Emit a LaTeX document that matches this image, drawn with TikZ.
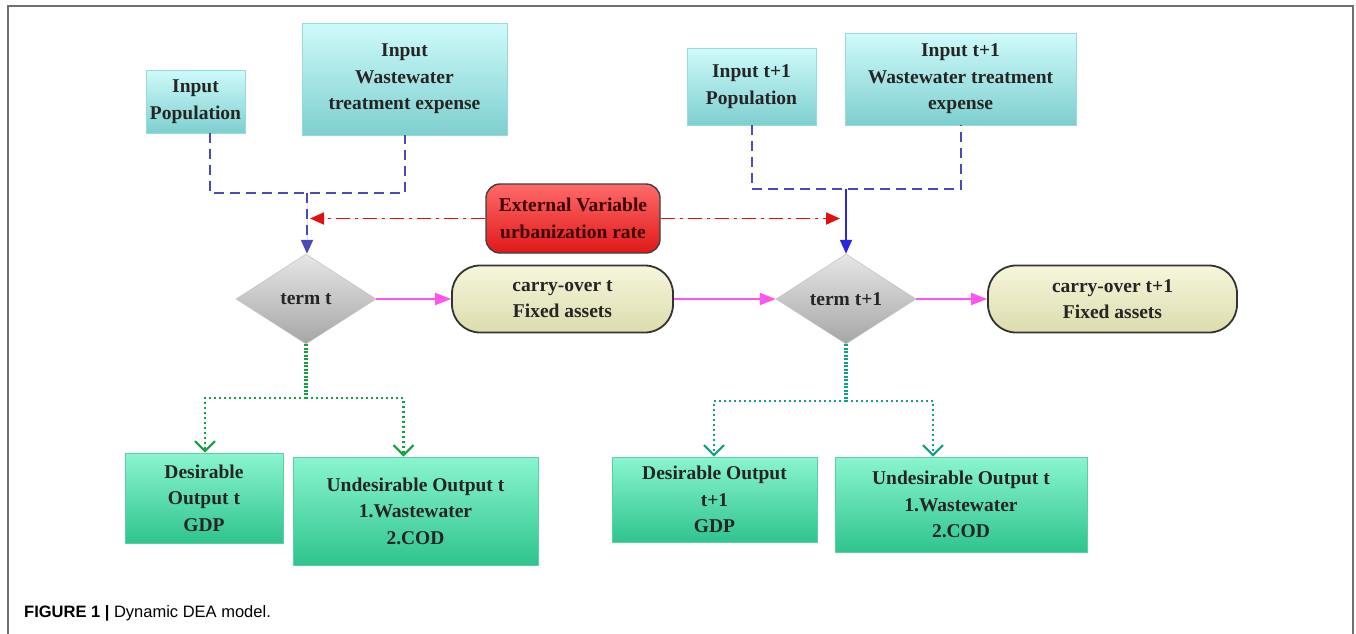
\documentclass[tikz,border=0pt]{standalone}
\usepackage{fontspec}
\setmainfont{Liberation Serif}
\newfontfamily\capfont{Liberation Sans}
\usetikzlibrary{shapes.geometric,arrows.meta,calc}
\definecolor{framegray}{HTML}{707070}
\definecolor{txt}{HTML}{252525}
\definecolor{cyantop}{HTML}{CFFAFA}
\definecolor{cyanbot}{HTML}{7ECFCF}
\definecolor{greentop}{HTML}{8AF5CF}
\definecolor{greenbot}{HTML}{2FC48E}
\definecolor{redtop}{HTML}{FF6A6A}
\definecolor{redbot}{HTML}{E01818}
\definecolor{yeltop}{HTML}{F6F6DC}
\definecolor{yelbot}{HTML}{DCDCAE}
\definecolor{graytop}{HTML}{E6E6E6}
\definecolor{graybot}{HTML}{A6A6A6}
\definecolor{bluedashc}{HTML}{4A4AB8}
\definecolor{bluesolid}{HTML}{2828E0}
\definecolor{redline}{HTML}{E01010}
\definecolor{magline}{HTML}{FF55EE}
\definecolor{greenl}{HTML}{12A042}
\definecolor{greenr}{HTML}{12A084}
\tikzset{
  lbl/.style={font=\fontsize{19.5}{26.5}\selectfont\bfseries, text=txt, align=center, inner sep=0pt},
  inbox/.style={lbl, rectangle, top color=cyantop, bottom color=cyanbot, draw=cyanbot!80!white, line width=0.6pt},
  outbox/.style={lbl, rectangle, top color=greentop, bottom color=greenbot, draw=greenbot!80!white, line width=0.6pt},
  extbox/.style={lbl, rectangle, rounded corners=14pt, top color=redtop, bottom color=redbot, draw=black!75, line width=1.4pt, text=black!60!red!60!black},
  carrybox/.style={lbl, rectangle, rounded corners=28pt, top color=yeltop, bottom color=yelbot, draw=black!80, line width=1.8pt},
  termbox/.style={lbl, diamond, aspect=1.55, top color=graytop, bottom color=graybot, draw=graybot!70!white, line width=0.5pt},
  bluedash/.style={draw=bluedashc, line width=2pt, dash pattern=on 10pt off 6pt},
  bluearrow/.style={-{Triangle[length=14pt,width=12pt]}},
  redarrow/.style={draw=redline, fill=redline, line width=1.8pt, dash pattern=on 14pt off 5pt on 3pt off 5pt, -{Triangle[length=14pt,width=12pt]}},
  magarrow/.style={draw=magline, fill=magline, line width=1.8pt, -{Triangle[length=16pt,width=12pt]}},
  greenstem/.style={line width=3.2pt, dash pattern=on 2pt off 1.5pt},
  greendot/.style={line width=2.2pt, dash pattern=on 2pt off 3pt},
  greentip/.style={-{Straight Barb[length=10pt,width=20pt,line width=2.2pt]}}
}
\begin{document}
\begin{tikzpicture}[x=1pt,y=-1pt]
\useasboundingbox (0,0) rectangle (1356,633);
\fill[white] (0,0) rectangle (1356,633);
% frame
\draw[framegray, line width=2pt] (8,645) -- (8,6) -- (1353,6) -- (1353,645);

% input nodes
\node[inbox, minimum width=99pt, minimum height=63pt] (pop) at (195.5,101.5) {Input\\Population};
\node[inbox, minimum width=205pt, minimum height=112pt] (ww) at (404.5,79) {Input\\Wastewater\\treatment expense};
\node[inbox, minimum width=129pt, minimum height=77pt] (pop2) at (751.5,86.5) {Input t+1\\Population};
\node[inbox, minimum width=231pt, minimum height=92pt] (ww2) at (960.5,79) {Input t+1\\Wastewater treatment\\expense};

% external variable
\node[extbox, minimum width=174pt, minimum height=69pt] (ext) at (573,218.5) {External Variable\\urbanization rate};

% terms and carry-over
\node[termbox, minimum width=140pt, minimum height=90pt] (termt) at (306,299) {term t};
\node[carrybox, minimum width=221pt, minimum height=67pt] (carry) at (562.5,299) {carry-over t\\Fixed assets};
\node[termbox, minimum width=140pt, minimum height=90pt] (termt2) at (846,299) {term t+1};
\node[carrybox, minimum width=249pt, minimum height=67pt] (carry2) at (1112.5,299) {carry-over t+1\\Fixed assets};

% outputs
\node[outbox, minimum width=158pt, minimum height=90pt] (des) at (204,498) {Desirable\\Output t\\GDP};
\node[outbox, minimum width=245pt, minimum height=108pt] (und) at (415.5,511) {Undesirable Output t\\1.Wastewater\\2.COD};
\node[outbox, minimum width=205pt, minimum height=85pt] (des2) at (714.5,499.5) {Desirable Output\\t+1\\GDP};
\node[outbox, minimum width=252pt, minimum height=95pt] (und2) at (961,504.5) {Undesirable Output t\\1.Wastewater\\2.COD};

% junctions
\coordinate (j1) at (307,193);
\coordinate (j2) at (846,189);
\coordinate (g1) at (306,398);
\coordinate (g2) at (846,401);

% blue input connectors
\draw[bluedash] ([xshift=14pt]pop.south) |- (ww.south |- j1) -- (ww.south);
\draw[bluedash, bluearrow, fill=bluedashc] (j1) -- (j1 |- termt.north);
\draw[bluedash] (pop2.south) |- (ww2.south |- j2) -- (ww2.south);
\draw[draw=bluesolid, fill=bluesolid, line width=2pt, bluearrow] (j2) -- (j2 |- termt2.north);

% red external arrows
\draw[redarrow] (ext.west) -- ([xshift=3pt]j1 |- ext.west);
\draw[redarrow] (ext.east) -- ([xshift=-6pt]j2 |- ext.east);

% magenta flow
\draw[magarrow] (termt.east) -- (carry.west);
\draw[magarrow] (carry.east) -- (termt2.west);
\draw[magarrow] (termt2.east) -- (carry2.west);

% green outputs left
\draw[greenl, greenstem] (termt.south) -- (g1);
\draw[greenl, greendot, greentip] (g1) -| ([xshift=1pt]des.north);
\draw[greenl, greendot, greentip] (g1) -| ([xshift=-12pt]und.north);
% green outputs right
\draw[greenr, greenstem] (termt2.south) -- (g2);
\draw[greenr, greendot, greentip] (g2) -| ([xshift=-0.5pt]des2.north);
\draw[greenr, greendot, greentip] (g2) -| ([xshift=-28pt]und2.north);

% caption
\node[anchor=base west, inner sep=0pt, font=\capfont\fontsize{16.5}{19}\selectfont] (cap) at (24,617) {\textbf{FIGURE 1 |} Dynamic DEA model.};
\end{tikzpicture}
\end{document}
